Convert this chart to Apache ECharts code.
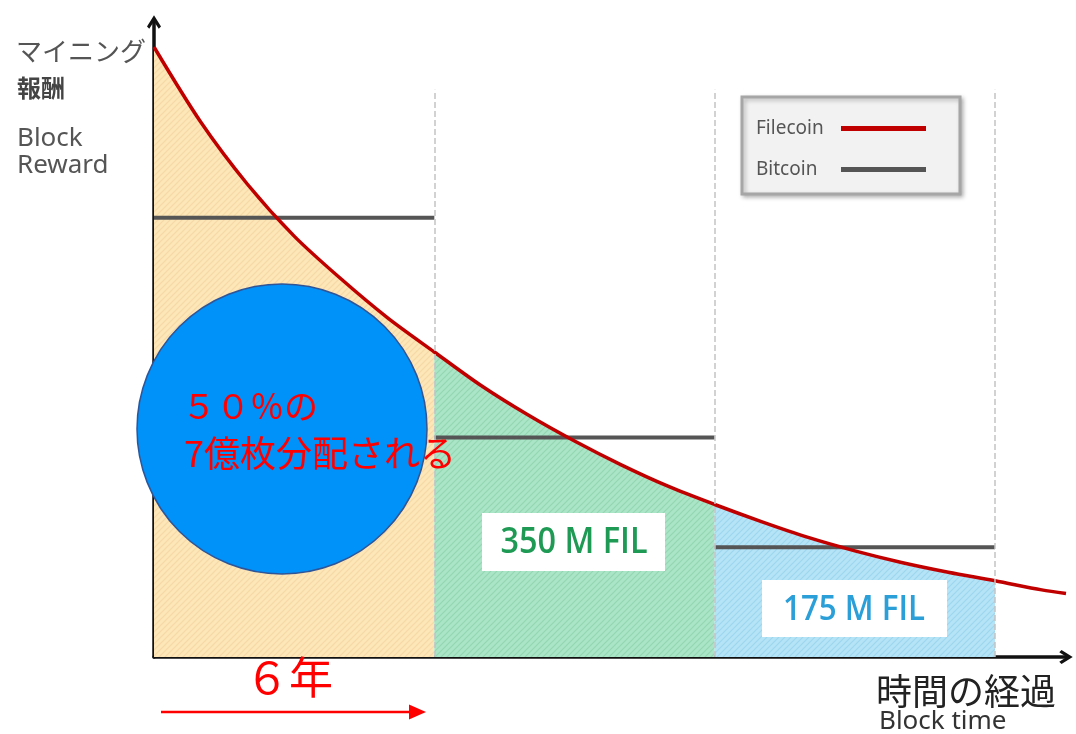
<!DOCTYPE html>
<html>
<head>
<meta charset="utf-8">
<script src="https://cdn.jsdelivr.net/npm/echarts@6/dist/echarts.min.js"></script>
<style>
html,body{margin:0;padding:0;background:#fff;}
#chart{width:1076px;height:734px;}
</style>
</head>
<body>
<div id="chart"></div>
<script>
// ---- data ----
const years = [0,1,2,3,4,5,6,7,8,9,10,11,12,13,14,15,16,17,18,19,19.52];
const filecoinReward = [100,87.7,77.5,69,62,55.6,50,44.5,39.7,35.4,31.5,28,25,22.2,19.6,17.4,15.5,13.9,12.5,11,10.4];
const eraBounds = [0, 6, 12, 18];
const bitcoinReward = [72, 36, 18];
const eraLabels = ['', '350 M FIL', '175 M FIL'];
const seriesNames = ['Filecoin', 'Bitcoin'];

function hatch(bg, line) {
  const c = document.createElement('canvas');
  c.width = 6; c.height = 6;
  const g = c.getContext('2d');
  g.fillStyle = bg; g.fillRect(0, 0, 6, 6);
  g.strokeStyle = line; g.lineWidth = 1.2;
  g.beginPath();
  g.moveTo(0, 6); g.lineTo(6, 0);
  g.moveTo(-1, 1); g.lineTo(1, -1);
  g.moveTo(5, 7); g.lineTo(7, 5);
  g.stroke();
  return c;
}
const fills = [
  hatch('#fde6b8', '#f6d9a6'),
  hatch('#a9e5c6', '#94d6b3'),
  hatch('#b5e4f7', '#9dd6ee')
];

const curve = years.map((t, i) => [t, filecoinReward[i]]);

const areaSeries = [0, 1, 2].map(k => ({
  type: 'line',
  name: 'area' + k,
  data: curve.filter(p => p[0] >= eraBounds[k] && p[0] <= eraBounds[k + 1]),
  smooth: 0.3,
  showSymbol: false,
  symbol: 'none',
  lineStyle: { width: 0 },
  areaStyle: { color: { image: fills[k], repeat: 'repeat' }, opacity: 1 },
  silent: true,
  z: 1
}));

const btcData = [];
bitcoinReward.forEach((v, k) => {
  if (k > 0) btcData.push([eraBounds[k], '-']);
  btcData.push([eraBounds[k], v]);
  btcData.push([eraBounds[k + 1], v]);
});

const dashedLines = eraBounds.slice(1).map(b => [{ coord: [b, 0] }, { coord: [b, 93] }]);

const arrowPath = 'path://M5,0 L10,8 L8.4,9.6 L5,4.4 L1.6,9.6 L0,8 Z';

const chart = echarts.init(document.getElementById('chart'));
chart.setOption({
  animation: false,
  backgroundColor: '#fff',
  grid: { left: 154, right: 10, top: 22, bottom: 77 },
  xAxis: {
    type: 'value', min: 0, max: 19.52,
    axisLine: { show: true, lineStyle: { color: '#111', width: 3.5 }, symbol: ['none', arrowPath], symbolSize: [14, 18] },
    axisTick: { show: false }, axisLabel: { show: false }, splitLine: { show: false }
  },
  yAxis: {
    type: 'value', min: 0, max: 104.1,
    axisLine: { show: true, lineStyle: { color: '#111', width: 3.5 }, symbol: ['none', arrowPath], symbolSize: [14, 18] },
    axisTick: { show: false }, axisLabel: { show: false }, splitLine: { show: false }
  },
  legend: {
    data: seriesNames.map(n => ({ name: n, icon: 'rect' })),
    orient: 'vertical',
    align: 'right',
    left: 742, top: 97,
    padding: [22, 34, 15, 14],
    itemGap: 22,
    itemWidth: 85, itemHeight: 5,
    backgroundColor: '#f2f2f2',
    borderColor: '#a6a6a6', borderWidth: 3,
    shadowColor: 'rgba(0,0,0,0.25)', shadowBlur: 4, shadowOffsetX: 2, shadowOffsetY: 2,
    formatter: '{a|{name}}',
    textStyle: {
      color: '#555', fontSize: 19, fontFamily: 'Noto Sans',
      rich: { a: { width: 80, align: 'left', color: '#555', fontSize: 19, fontFamily: 'Noto Sans' } }
    },
    selectedMode: false
  },
  series: [
    ...areaSeries,
    {
      type: 'line', name: 'guides', data: [], silent: true, z: 2,
      markLine: {
        silent: true, symbol: 'none', label: { show: false },
        lineStyle: { type: 'dashed', color: '#c4c4c4', width: 1.5 },
        data: dashedLines
      }
    },
    {
      type: 'line', name: 'Bitcoin', data: btcData,
      showSymbol: false, symbol: 'none', connectNulls: false,
      lineStyle: { color: '#555', width: 4 }, itemStyle: { color: '#555' }, z: 3
    },
    {
      type: 'line', name: 'Filecoin', data: curve, smooth: 0.3,
      showSymbol: false, symbol: 'none',
      lineStyle: { color: '#c00000', width: 3.5 }, itemStyle: { color: '#c00000' }, z: 4
    }
  ],
  graphic: [
    { type: 'text', left: 16, top: 38, z: 100, style: { text: 'マイニング', fill: '#555', font: '26px "Noto Sans CJK JP"' } },
    { type: 'text', left: 17, top: 76, z: 100, style: { text: '報酬', fill: '#444', font: 'bold 24px "Noto Sans CJK JP"' } },
    { type: 'text', left: 17, top: 126, z: 100, style: { text: 'Block', fill: '#555', font: '26px "Noto Sans"' } },
    { type: 'text', left: 17, top: 153, z: 100, style: { text: 'Reward', fill: '#555', font: '26px "Noto Sans"' } },
    { type: 'text', left: 876, top: 673, z: 100, style: { text: '時間の経過', fill: '#222', font: '36px "Noto Sans CJK JP"' } },
    { type: 'text', left: 879, top: 709, z: 100, style: { text: 'Block time', fill: '#333', font: '26px "Noto Sans"' } },
    { type: 'rect', z: 50, shape: { x: 482, y: 513, width: 183, height: 58 }, style: { fill: '#fff' } },
    { type: 'rect', z: 50, shape: { x: 762, y: 580, width: 185, height: 57 }, style: { fill: '#fff' } },
    {
      type: 'text', x: 574, y: 543, scaleX: 0.9, z: 60,
      style: { x: 0, y: 0, text: eraLabels[1], fill: '#1f9a55', font: '600 36px "Open Sans"', align: 'center', verticalAlign: 'middle', textAlign: 'center', textVerticalAlign: 'middle' }
    },
    {
      type: 'text', x: 854, y: 610, scaleX: 0.92, z: 60,
      style: { x: 0, y: 0, text: eraLabels[2], fill: '#2a9fd8', font: '600 34px "Open Sans"', align: 'center', verticalAlign: 'middle', textAlign: 'center', textVerticalAlign: 'middle' }
    },
    { type: 'circle', z: 100, shape: { cx: 282, cy: 429, r: 145 }, style: { fill: '#0091f9', stroke: '#2f5597', lineWidth: 1.5 } },
    { type: 'text', left: 182, top: 389, z: 110, style: { text: '５０％の', fill: '#ff0000', font: '34px "Noto Sans CJK JP"' } },
    { type: 'text', left: 184, top: 435, z: 110, style: { text: '7億枚分配される', fill: '#ff0000', font: '36px "Noto Sans CJK JP"' } },
    { type: 'text', left: 245, top: 655, z: 110, style: { text: '６年', fill: '#ff0000', font: '44px "Noto Sans CJK JP"' } },
    { type: 'line', z: 110, shape: { x1: 161, y1: 712, x2: 412, y2: 712 }, style: { stroke: '#ff0000', lineWidth: 2.5 } },
    { type: 'polygon', z: 110, shape: { points: [[409, 704.5], [426, 712], [409, 719.5]] }, style: { fill: '#ff0000' } }
  ]
});
</script>
</body>
</html>
